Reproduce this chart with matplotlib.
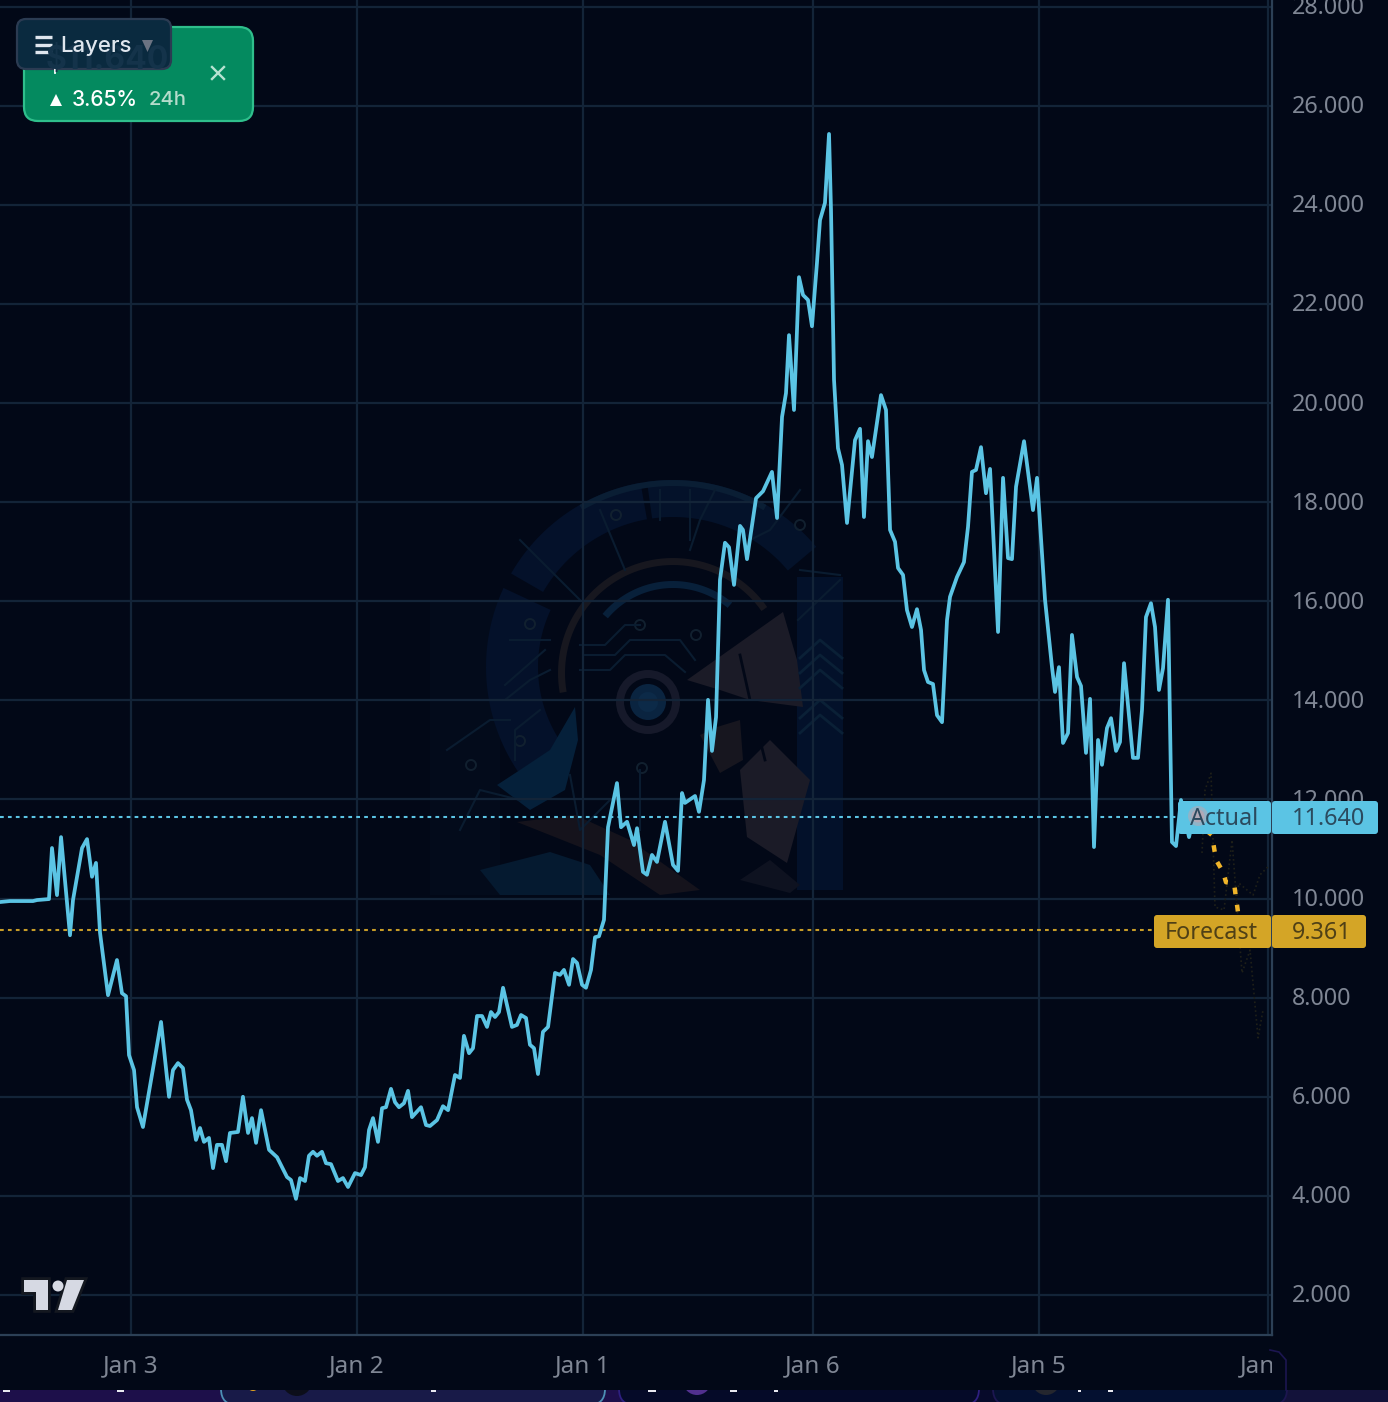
import numpy as np
import matplotlib
matplotlib.use('Agg')
import matplotlib.pyplot as plt
from matplotlib.patches import FancyBboxPatch, Polygon, Circle, Rectangle
from matplotlib.ticker import FuncFormatter
from matplotlib.transforms import Bbox, ScaledTranslation

# hours from the Jan 3 tick, the dates are in the order the chart shows them
actualHours = [-13.91, -12.85, -10.41, -9.98, -8.71, -8.39, -7.86, -7.43, -6.48, -6.16, -5.20, -4.67, -4.14, -3.72, -3.29, -2.44, -1.49, -0.96, -0.53, -0.21,
               0.32, 0.64, 1.27, 3.19, 4.04, 4.46, 4.99, 5.52, 5.95, 6.37, 6.90, 7.33, 7.75, 8.28, 8.71, 9.13, 9.66, 10.09, 10.51, 11.36,
               11.89, 12.43, 12.85, 13.28, 13.81, 14.66, 15.51, 16.57, 16.99, 17.52, 17.95, 18.48, 18.90, 19.33, 19.75, 20.28, 20.71, 21.24, 21.98, 22.51,
               23.05, 23.79, 24.43, 24.85, 25.28, 25.70, 26.23, 26.66, 27.08, 27.61, 28.04, 28.46, 28.99, 29.42, 29.84, 30.80, 31.33, 31.75, 32.50, 33.13,
               33.67, 34.41, 34.94, 35.36, 35.90, 36.32, 36.75, 37.28, 37.81, 38.23, 38.66, 39.08, 39.51, 40.46, 40.99, 41.42, 41.95, 42.37, 42.80, 43.22,
               43.75, 44.29, 45.03, 45.56, 45.98, 46.52, 46.94, 47.37, 47.90, 48.32, 48.85, 49.28, 49.70, 50.23, 50.66, 51.61, 52.04, 52.68, 53.42, 53.74,
               54.37, 54.80, 55.33, 55.86, 56.71, 57.56, 58.09, 58.52, 58.83, 59.90, 60.32, 60.85, 61.28, 61.70, 62.13, 62.55, 63.08, 63.51, 64.04, 64.68,
               64.99, 65.42, 66.38, 67.12, 68.07, 68.61, 69.14, 69.56, 69.88, 70.41, 70.94, 71.37, 71.90, 72.32, 72.85, 73.17, 73.70, 74.13, 74.34, 74.66,
               75.08, 75.51, 76.04, 76.89, 77.42, 77.84, 78.27, 78.69, 79.65, 80.18, 80.61, 81.14, 81.46, 81.99, 82.41, 82.94, 83.47, 83.90, 84.22, 84.64,
               85.17, 85.60, 86.13, 86.66, 86.98, 87.72, 88.46, 88.89, 89.31, 89.74, 90.27, 90.80, 91.23, 92.08, 92.61, 93.14, 93.56, 93.99, 94.84, 95.79,
               96.22, 97.07, 97.81, 98.13, 98.55, 98.98, 99.51, 99.93, 100.47, 100.89, 101.42, 101.85, 102.27, 102.70, 103.12, 103.65, 104.08, 104.61, 105.03, 105.46,
               106.41, 106.94, 107.37, 107.79, 108.32, 108.75, 109.17, 109.60, 110.13, 110.55, 110.98, 111.51, 112.36, 112.78]
actualPrice = [9930, 9950, 9950, 9970, 9990, 11020, 10070, 11240, 9260, 9970, 11020, 11200, 10440, 10720, 9310, 8050, 8760, 8090, 8030, 6840,
               6540, 5790, 5390, 7510, 6000, 6540, 6680, 6580, 5940, 5730, 5130, 5370, 5090, 5170, 4560, 5030, 5030, 4700, 5270, 5290,
               6000, 5270, 5570, 5070, 5730, 4930, 4780, 4380, 4320, 3940, 4360, 4300, 4810, 4890, 4810, 4890, 4660, 4640, 4300, 4360,
               4180, 4460, 4420, 4580, 5330, 5570, 5090, 5770, 5790, 6160, 5890, 5790, 5870, 6120, 5590, 5790, 5430, 5410, 5530, 5810,
               5730, 6440, 6380, 7230, 6880, 6980, 7630, 7630, 7410, 7710, 7610, 7710, 8200, 7410, 7450, 7650, 7590, 7050, 6980, 6460,
               7310, 7410, 8500, 8460, 8560, 8260, 8780, 8700, 8260, 8200, 8560, 9220, 9240, 9570, 11440, 12330, 11440, 11550, 11080, 11420,
               10540, 10480, 10880, 10740, 11550, 10680, 10560, 12130, 11930, 12070, 11750, 12390, 14010, 12980, 13660, 16430, 17180, 17090, 16330, 17520,
               17440, 16850, 18080, 18220, 18610, 17680, 19720, 20200, 21370, 19860, 22540, 22180, 22080, 21550, 22830, 23690, 24040, 25430, 23900, 20470,
               19090, 18750, 17580, 19250, 19480, 17700, 19230, 18910, 20160, 19860, 17440, 17200, 16670, 16530, 15820, 15480, 15840, 15420, 14610, 14370,
               14330, 13700, 13560, 15620, 16090, 16490, 16790, 17500, 18610, 18650, 19110, 18180, 18670, 15380, 18490, 16870, 16850, 18310, 19230, 17840,
               18490, 16030, 14670, 14170, 14670, 13140, 13340, 15320, 14470, 14290, 12940, 14030, 11040, 13200, 12700, 13440, 13640, 12980, 13160, 14750,
               12840, 12840, 13810, 15680, 15960, 15480, 14210, 14650, 16030, 11140, 11060, 11990, 11240, 11590]

forecastHours = [112.78, 114.80, 115.23, 115.97, 116.29, 117.14, 117.56]
forecastPrice = [11590, 11280, 10780, 10540, 10330, 10310, 9730]

# the two faint dotted paths behind the forecast
ghostHoursA = [113.74, 114.06, 114.70, 115.12, 116.08, 116.93, 117.99, 118.84, 119.69, 120.22]
ghostPriceA = [10920, 12190, 12530, 9830, 9770, 11180, 8500, 8960, 7190, 7750]
ghostHoursB = [117.35, 117.67, 119.16, 119.90, 120.75]
ghostPriceB = [9970, 10310, 10070, 10480, 10640]

priceTicks = [2000, 4000, 6000, 8000, 10000, 12000, 14000, 16000, 18000, 20000, 22000, 24000, 26000, 28000]
dateTicks = [0, 24, 48, 72.43, 96.43, 120.75]
dateLabels = ['Jan 3', 'Jan 2', 'Jan 1', 'Jan 6', 'Jan 5', 'Jan 4']

actualLast = 11640
forecastLast = 9361
changeText = '3.65%'

BG = '#020817'
GRID = '#132438'
BORDER = '#2c4056'
CYAN = '#5bc4e4'
GOLD = '#d4a526'
TICKTEXT = '#7f8694'

W, H = 1388, 1402
fig = plt.figure(figsize=(W / 100, H / 100), dpi=100, facecolor=BG)


def pixelAxes(zorder):
    a = fig.add_axes([0, 0, 1, 1], zorder=zorder)
    a.set_xlim(0, W)
    a.set_ylim(H, 0)
    a.axis('off')
    a.patch.set_alpha(0)
    return a


def arcPts(cx, cy, r, a0, a1):
    t = np.radians(np.linspace(a0, a1, 60))
    return cx + r * np.cos(t), cy - r * np.sin(t)


def ring(a, cx, cy, r0, r1, a0, a1, color):
    x0, y0 = arcPts(cx, cy, r1, a0, a1)
    x1, y1 = arcPts(cx, cy, r0, a1, a0)
    a.add_patch(Polygon(np.column_stack([np.r_[x0, x1], np.r_[y0, y1]]), closed=True, fc=color, ec='none'))


# ---- watermark and bottom strip, under the chart
back = pixelAxes(0)
back.add_patch(Rectangle((430, 600), 70, 295, fc='#030b1b', ec='none'))
back.add_patch(Rectangle((797, 577), 46, 313, fc='#03112a', ec='none'))
for y in [640, 655, 670, 700, 715]:
    back.plot([800, 820, 842], [y + 18, y, y + 18], color='#0a2036', lw=2)
ring(back, 673, 667, 150, 187, 40, 98, '#04122a')
ring(back, 673, 667, 150, 187, 100, 150, '#04112a')
ring(back, 673, 667, 135, 187, 155, 215, '#04112a')
ring(back, 673, 667, 181, 187, 60, 120, '#0a1e34')
ring(back, 673, 673, 108, 115, 35, 190, '#17171f')
ring(back, 673, 673, 85, 92, 50, 140, '#08203a')
for r, c in [(32, '#16192a'), (24, BG), (18, '#0a2440'), (10, '#0c2a48')]:
    back.add_patch(Circle((648, 702), r, fc=c, ec='none'))
# helmet plates
back.add_patch(Polygon([(687, 680), (783, 612), (797, 660), (803, 707), (750, 700), (720, 690)], closed=True, fc='#1b1b27', ec='none'))
back.add_patch(Polygon([(717, 727), (740, 720), (743, 760), (720, 773), (700, 735)], closed=True, fc='#17161f', ec='none'))
back.add_patch(Polygon([(740, 770), (770, 740), (810, 780), (787, 863), (747, 837)], closed=True, fc='#1b1b27', ec='none'))
back.plot([740, 750, 765], [655, 700, 760], color=BG, lw=2)
# cheek swooshes
back.add_patch(Polygon([(575, 707), (578, 740), (565, 790), (530, 810), (497, 785), (520, 770), (550, 750)], closed=True, fc='#05203a', ec='none'))
back.add_patch(Polygon([(517, 822), (575, 815), (630, 840), (700, 890), (660, 895), (600, 855)], closed=True, fc='#15131c', ec='none'))
back.add_patch(Polygon([(480, 870), (550, 852), (590, 865), (610, 895), (500, 895)], closed=True, fc='#051a30', ec='none'))
back.add_patch(Polygon([(740, 880), (770, 860), (800, 885), (790, 893)], closed=True, fc='#0e1220', ec='none'))
# circuit traces
traces = [[(580, 645), (605, 645), (625, 625), (640, 625)], [(585, 655), (615, 655), (630, 640), (680, 640), (695, 660)],
          [(580, 670), (610, 670), (625, 655), (665, 655), (685, 672)], [(447, 750), (490, 720), (510, 720)],
          [(505, 700), (530, 680), (550, 670)], [(520, 540), (580, 600)], [(600, 510), (625, 570)], [(660, 490), (660, 520)],
          [(690, 490), (690, 540)], [(715, 490), (700, 520), (690, 550)], [(800, 490), (770, 530), (750, 540)],
          [(800, 570), (840, 575)], [(798, 620), (840, 580)], [(460, 830), (480, 790), (520, 800)], [(510, 640), (550, 640)],
          [(505, 685), (545, 650)], [(515, 760), (515, 730), (540, 710)], [(610, 800), (580, 830), (570, 775)], [(640, 770), (640, 830)]]
for tr in traces:
    xs, ys = zip(*tr)
    back.plot(xs, ys, color='#0a1c30', lw=1.5)
for cx, cy in [(640, 625), (696, 635), (616, 515), (800, 525), (530, 624), (520, 741), (471, 765), (642, 768)]:
    back.add_patch(Circle((cx, cy), 5, fc='none', ec='#11202f', lw=1.4))

back.add_patch(Rectangle((0, 1385), 700, 17, fc='#1d0f4a', ec='none'))
back.add_patch(Rectangle((700, 1385), 500, 17, fc='#070a2a', ec='none'))
back.add_patch(Rectangle((1200, 1385), 188, 17, fc='#13123a', ec='none'))
for x0, x1, fc, ec in [(221, 605, '#181a48', '#4d8fb5'), (619, 979, '#050a28', '#2e1f80'), (993, 1287, '#041030', '#1c1650')]:
    back.add_patch(FancyBboxPatch((x0 + 16, 1356), x1 - x0 - 32, 33, boxstyle='round,pad=16,rounding_size=16', mutation_scale=1,
                                  fc=fc, ec=ec, lw=1.3))
for cx, cy, r, c in [(297, 1381, 15, '#0c0e1a'), (253, 1385, 6, '#e0a020'), (697, 1381, 14, '#51308f'), (1046, 1381, 14, '#24262e')]:
    back.add_patch(Circle((cx, cy), r, fc=c, ec='none'))
for x0, x1 in [(3, 10), (117, 124), (431, 436), (648, 656), (730, 737), (774, 778), (1078, 1081), (1108, 1113)]:
    back.add_patch(Rectangle((x0, 1390), x1 - x0, 2, fc='#e8e8f0', ec='none'))
back.add_patch(Rectangle((0, 1336), W, 54, fc=BG, ec='none'))
back.plot([1270, 1279, 1286, 1286], [1350, 1352, 1360, 1390], color='#1c1650', lw=1.2)

# ---- the chart
ax = fig.add_axes([0, (H - 1335) / H, 1272 / W, 1335 / H], zorder=1)
ax.patch.set_alpha(0)
ax.set_xlim((0 - 131) * 0.1062, (1272 - 131) * 0.1062)
ax.set_ylim(2000 - 40 * 20.18, 2000 + 1295 * 20.18)

ax.plot(ghostHoursA, ghostPriceA, color='#1f2019', lw=1.2, ls=':')
ax.plot(ghostHoursB, ghostPriceB, color='#1f2019', lw=1.2, ls=':')
ax.axhline(actualLast, color=CYAN, lw=1.5, dashes=(1.8, 2.0))
ax.axhline(forecastLast, color='#c79c28', lw=1.5, dashes=(1.8, 2.0))
ax.plot(forecastHours, forecastPrice, color='#f0b429', lw=3.2, dashes=(1.5, 2.4))
ax.plot(actualHours, actualPrice, color=CYAN, lw=2.7, solid_joinstyle='round')

ax.yaxis.tick_right()
ax.set_yticks(priceTicks)
ax.yaxis.set_major_formatter(FuncFormatter(lambda v, p: f'{int(v):,}'.replace(',', '.')))
ax.set_xticks(dateTicks)
ax.set_xticklabels(dateLabels)
ax.grid(True, color=GRID, lw=1.6)
ax.set_axisbelow(True)
ax.tick_params(axis='both', length=0, colors=TICKTEXT)
ax.tick_params(axis='y', pad=14, labelsize=16.8)
ax.tick_params(axis='x', pad=14, labelsize=17.5)
for lab in ax.get_xticklabels() + ax.get_yticklabels():
    lab.set_family('Noto Sans')
    lab.set_fontweight('medium')
# the price labels sit a little above their grid lines
nudge = ScaledTranslation(0, 1.5 / 72 * 0.72, fig.dpi_scale_trans)
for lab in ax.get_yticklabels():
    lab.set_transform(lab.get_transform() + nudge)
ax.get_xticklabels()[-1].set_clip_box(Bbox([[0, 0], [1272, H]]))
ax.get_xticklabels()[-1].set_clip_on(True)
for side in ['left', 'top']:
    ax.spines[side].set_visible(False)
for side in ['right', 'bottom']:
    ax.spines[side].set_color(BORDER)
    ax.spines[side].set_linewidth(1.6)

# ---- overlay widgets
top = pixelAxes(2)


def box(x0, y0, x1, y1, r, fc, ec='none', lw=0, alpha=None):
    p = FancyBboxPatch((x0 + r, y0 + r), x1 - x0 - 2 * r, y1 - y0 - 2 * r, boxstyle=f'round,pad={r},rounding_size={r}',
                       mutation_scale=1, fc=fc, ec=ec, lw=lw, alpha=alpha)
    top.add_patch(p)
    return p


# price labels on the axis
box(1178, 801, 1271, 834, 3, CYAN)
box(1272, 801, 1378, 834, 3, CYAN)
top.add_patch(Circle((1198, 816), 10, fc='#8fb4c8', ec='none', zorder=2))
top.add_patch(Circle((1198, 816), 6.5, fc='#b0a9b6', ec='none', zorder=2))
top.text(1258, 819, 'Actual', ha='right', va='center', color='#2b4a5e', fontsize=16.8, family='Noto Sans', fontweight='medium')
top.text(1292, 819, f'{actualLast:,}'.replace(',', '.'), ha='left', va='center', color='#2b4a5e', fontsize=16.8, family='Noto Sans', fontweight='medium')
box(1154, 915, 1271, 948, 3, GOLD)
box(1272, 915, 1366, 948, 3, GOLD)
top.text(1258, 933, 'Forecast', ha='right', va='center', color='#4f4016', fontsize=16.8, family='Noto Sans', fontweight='medium')
top.text(1292, 933, f'{forecastLast:,}'.replace(',', '.'), ha='left', va='center', color='#4f4016', fontsize=16.8, family='Noto Sans', fontweight='medium')

# green price card
box(24, 27, 253, 121, 14, '#048a5f', ec='#2fbf8c', lw=1.6)
top.add_patch(Polygon([(50, 106), (62, 106), (56, 94)], closed=True, fc='white', ec='none'))
top.text(72, 100, changeText, ha='left', va='center', color='white', fontsize=15, family='Inter', fontweight='medium')
top.text(149, 100, '24h', ha='left', va='center', color='#b5dccb', fontsize=14.5, family='Inter', fontweight='medium')
top.plot([212, 224], [67, 79], color='#b7e3d2', lw=1.7)
top.plot([224, 212], [67, 79], color='#b7e3d2', lw=1.7)
top.plot([55, 55], [69, 73], color='white', lw=1.3)

# layers button
btn = box(17, 19, 171, 69, 9, '#0a2a3f', ec='#2b3b52', lw=1.6)
price = top.text(46, 60, '$11.640', ha='left', va='center', color='#14334a', fontsize=23, family='Inter', fontweight='bold')
price.set_clip_path(btn)
for y in [37, 45, 52]:
    top.plot([35, 52], [y, y], color='#dfe6ee', lw=2.4, solid_capstyle='butt')
top.text(60, 46, 'Layers', ha='left', va='center', color='#dfe6ee', fontsize=16, family='Inter', fontweight='medium')
top.add_patch(Polygon([(142, 40), (153, 40), (147.5, 52)], closed=True, fc='#6b7382', ec='none'))

# tradingview logo
for pts in ([(24.5, 1280), (48, 1280), (48, 1310), (36, 1310), (36, 1292), (24.5, 1292)], [(67, 1280), (84, 1280), (72, 1310), (58, 1310)]):
    top.add_patch(Polygon(pts, closed=True, fc='#d6d9e3', ec='#141820', lw=4, joinstyle='miter', zorder=3))
    top.add_patch(Polygon(pts, closed=True, fc='#d6d9e3', ec='none', zorder=4))
top.add_patch(Circle((58, 1286), 5.5, fc='#d6d9e3', ec='none', zorder=4))

fig.savefig('out.png', dpi=100, facecolor=BG)
